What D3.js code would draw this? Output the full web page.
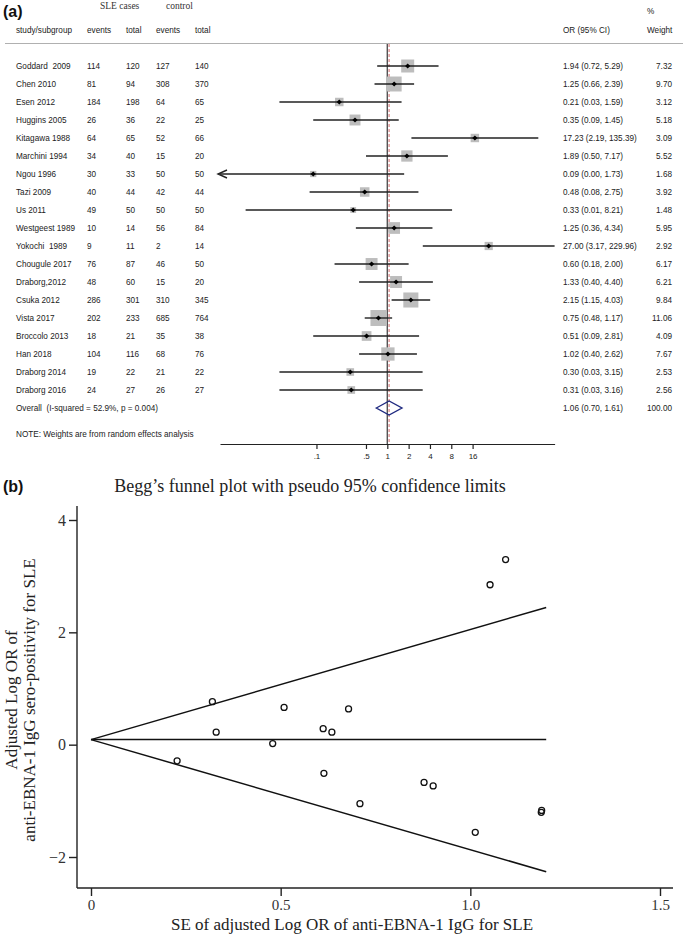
<!DOCTYPE html>
<html>
<head>
<meta charset="utf-8">
<script src="https://cdn.jsdelivr.net/npm/d3@7"></script>
<style>
  html, body { margin: 0; padding: 0; background: #fff; }
  svg { display: block; }
  text { white-space: pre; }
</style>
</head>
<body>
<svg id="chart" width="685" height="936"></svg>
<script>
// ---------- Forest plot data ----------
const studies = ["Goddard  2009","Chen 2010","Esen 2012","Huggins 2005","Kitagawa 1988","Marchini 1994","Ngou 1996","Tazi 2009","Us 2011","Westgeest 1989","Yokochi  1989","Chougule 2017","Draborg,2012","Csuka 2012","Vista 2017","Broccolo 2013","Han 2018","Draborg 2014","Draborg 2016"];
const caseEvents = [114,81,184,26,64,34,30,40,49,10,9,76,48,286,202,18,104,19,24];
const caseTotal  = [120,94,198,36,65,40,33,44,50,14,11,87,60,301,233,21,116,22,27];
const ctrlEvents = [127,308,64,22,52,15,50,42,50,56,2,46,15,310,685,35,68,21,26];
const ctrlTotal  = [140,370,65,25,66,20,50,44,50,84,14,50,20,345,764,38,76,22,27];
const orVals = [1.94,1.25,0.21,0.35,17.23,1.89,0.09,0.48,0.33,1.25,27.00,0.60,1.33,2.15,0.75,0.51,1.02,0.30,0.31];
const ciLow  = [0.72,0.66,0.03,0.09,2.19,0.50,0.00,0.08,0.01,0.36,3.17,0.18,0.40,1.15,0.48,0.09,0.40,0.03,0.03];
const ciHigh = [5.29,2.39,1.59,1.45,135.39,7.17,1.73,2.75,8.21,4.34,229.96,2.00,4.40,4.03,1.17,2.81,2.62,3.15,3.16];
const weights = [7.32,9.70,3.12,5.18,3.09,5.52,1.68,3.92,1.48,5.95,2.92,6.17,6.21,9.84,11.06,4.09,7.67,2.53,2.56];
const overall = {or: 1.06, lo: 0.70, hi: 1.61, weight: 100.00, label: "Overall  (I-squared = 52.9%, p = 0.004)"};
const orTicks = [0.1, 0.5, 1, 2, 4, 8, 16];
const orTickLabels = [".1", ".5", "1", "2", "4", "8", "16"];

// ---------- Funnel plot data ----------
const seVals    = [0.509,0.330,1.013,0.709,1.052,0.679,0.902,0.635,1.093,0.614,0.612,0.320,0.227,0.878,0.479,1.187,1.188];
const logOrVals = [0.663,0.223,-1.561,-1.050,2.847,0.637,-0.734,0.223,3.296,-0.511,0.285,0.765,-0.288,-0.673,0.020,-1.204,-1.171];
const pooledLogOr = 0.09;
const seMax = 1.2;
const xTicks = [0, 0.5, 1.0, 1.5];
const xTickLabels = ["0", "0.5", "1.0", "1.5"];
const yTicks = [-2, 0, 2, 4];

const svg = d3.select("#chart");
svg.append("rect").attr("width", 685).attr("height", 936).attr("fill", "#fff");

const sans = "'Liberation Sans', Arial, sans-serif";
const serif = "'Liberation Serif', 'Times New Roman', serif";
const fs = 8.2;

// ================= Panel (a) =================
const a = svg.append("g");
a.append("text").attr("x", 3).attr("y", 17).attr("font-family", sans).attr("font-weight", "bold")
  .attr("font-size", 16).attr("fill", "#111").text("(a)");

a.append("text").attr("x", 100).attr("y", 9).attr("font-family", serif).attr("font-size", 9.5).attr("fill", "#333").text("SLE cases");
a.append("text").attr("x", 166).attr("y", 9).attr("font-family", serif).attr("font-size", 9.5).attr("fill", "#333").text("control");

const hdrY = 33;
const cols = [{x:16, t:"study/subgroup"},{x:87,t:"events"},{x:126,t:"total"},{x:156,t:"events"},{x:195,t:"total"},{x:563,t:"OR (95% CI)"},{x:647,t:"Weight"}];
cols.forEach(c => a.append("text").attr("x", c.x).attr("y", hdrY).attr("font-family", sans).attr("font-size", fs).attr("fill", "#222").text(c.t));
a.append("text").attr("x", 647).attr("y", 14).attr("font-family", sans).attr("font-size", fs).attr("fill", "#222").text("%");
a.append("line").attr("x1", 5).attr("x2", 683).attr("y1", 43.5).attr("y2", 43.5).attr("stroke", "#b0b0b0").attr("stroke-width", 1);

const x = d3.scaleLog().domain([1/229.96, 229.96]).range([220, 554.6]);
const rowY = d3.scaleLinear().domain([0, 1]).range([66, 84]);
const n = studies.length;
const overallY = 408;
const axisY = 444;

// reference lines
a.append("line").attr("x1", x(1)).attr("x2", x(1)).attr("y1", 44).attr("y2", axisY)
  .attr("stroke", "#555").attr("stroke-width", 1.4);
a.append("line").attr("x1", x(overall.or)).attr("x2", x(overall.or)).attr("y1", 44).attr("y2", axisY)
  .attr("stroke", "#d9777a").attr("stroke-width", 1.1).attr("stroke-dasharray", "3,2");

// rows text
for (let i = 0; i < n; i++) {
  const y = rowY(i) + 3;
  const vals = [studies[i], caseEvents[i], caseTotal[i], ctrlEvents[i], ctrlTotal[i]];
  [16, 87, 126, 156, 195].forEach((cx, j) =>
    a.append("text").attr("x", cx).attr("y", y).attr("font-family", sans).attr("font-size", fs).attr("fill", "#222").text(vals[j]));
  a.append("text").attr("x", 563).attr("y", y).attr("font-family", sans).attr("font-size", fs).attr("fill", "#222")
    .text(`${orVals[i].toFixed(2)} (${ciLow[i].toFixed(2)}, ${ciHigh[i].toFixed(2)})`);
  a.append("text").attr("x", 672).attr("y", y).attr("text-anchor", "end").attr("font-family", sans).attr("font-size", fs).attr("fill", "#222")
    .text(weights[i].toFixed(2));
}

// markers
const [dMin, dMax] = x.domain();
for (let i = 0; i < n; i++) {
  const cy = rowY(i);
  const side = 4.8 * Math.sqrt(weights[i]);
  a.append("rect").attr("x", x(orVals[i]) - side/2).attr("y", cy - side/2).attr("width", side).attr("height", side)
    .attr("fill", "#bdbdbd");
  const lo = Math.max(ciLow[i], dMin), hi = Math.min(ciHigh[i], dMax);
  a.append("line").attr("x1", x(lo)).attr("x2", x(hi)).attr("y1", cy).attr("y2", cy)
    .attr("stroke", "#222").attr("stroke-width", 1.4);
  if (ciLow[i] < dMin) {
    const tip = x(dMin) - 2;
    a.append("path").attr("d", `M${tip+9},${cy-4} L${tip},${cy} L${tip+9},${cy+4}`)
      .attr("fill", "none").attr("stroke", "#222").attr("stroke-width", 1.4);
  }
  const px = x(orVals[i]);
  a.append("path").attr("d", `M${px},${cy-2.6} L${px+2.6},${cy} L${px},${cy+2.6} L${px-2.6},${cy} Z`).attr("fill", "#000");
}

// overall
a.append("path")
  .attr("d", `M${x(overall.lo)},${overallY} L${x(overall.or)},${overallY-7} L${x(overall.hi)},${overallY} L${x(overall.or)},${overallY+7} Z`)
  .attr("fill", "none").attr("stroke", "#1f2a80").attr("stroke-width", 1.4);
a.append("text").attr("x", 16).attr("y", overallY + 3).attr("font-family", sans).attr("font-size", fs).attr("fill", "#222").text(overall.label);
a.append("text").attr("x", 563).attr("y", overallY + 3).attr("font-family", sans).attr("font-size", fs).attr("fill", "#222")
  .text(`${overall.or.toFixed(2)} (${overall.lo.toFixed(2)}, ${overall.hi.toFixed(2)})`);
a.append("text").attr("x", 672).attr("y", overallY + 3).attr("text-anchor", "end").attr("font-family", sans).attr("font-size", fs).attr("fill", "#222")
  .text(overall.weight.toFixed(2));
a.append("text").attr("x", 16).attr("y", 437).attr("font-family", sans).attr("font-size", fs).attr("fill", "#222")
  .text("NOTE: Weights are from random effects analysis");

// OR axis
const xAxis = d3.axisBottom(x).tickValues(orTicks).tickFormat((d, i) => orTickLabels[i]).tickSize(5).tickSizeOuter(0);
const ga = a.append("g").attr("transform", `translate(0,${axisY})`).call(xAxis);
ga.select(".domain").attr("stroke", "#222").attr("stroke-width", 1.2);
ga.selectAll(".tick line").attr("stroke", "#222").attr("stroke-width", 1.2);
ga.selectAll(".tick text").attr("font-family", sans).attr("font-size", 8).attr("fill", "#222").attr("dy", "0.9em");

// ================= Panel (b) =================
const b = svg.append("g");
b.append("text").attr("x", 3).attr("y", 492).attr("font-family", sans).attr("font-weight", "bold")
  .attr("font-size", 16).attr("fill", "#111").text("(b)");

const fx = d3.scaleLinear().domain([0, 1.5]).range([91, 660]);
const fy = d3.scaleLinear().domain([-2, 4]).range([857, 520]);
const plotLeft = 77, plotRight = 673, plotTop = 506, plotBottom = 888;

b.append("text").attr("x", 310).attr("y", 492).attr("text-anchor", "middle")
  .attr("font-family", serif).attr("font-size", 18).attr("fill", "#222")
  .text("Begg\u2019s funnel plot with pseudo 95% confidence limits");

// axes
const gy = b.append("g").attr("transform", `translate(${plotLeft},0)`)
  .call(d3.axisLeft(fy).tickValues(yTicks).tickFormat(d3.format("d")).tickSize(8).tickSizeOuter(0));
gy.select(".domain").attr("d", `M0,${plotTop}V${plotBottom}`).attr("stroke", "#222").attr("stroke-width", 1.4);
gy.selectAll(".tick line").attr("stroke", "#222").attr("stroke-width", 1.4);
gy.selectAll(".tick text").attr("font-family", serif).attr("font-size", 16).attr("fill", "#333").attr("x", -11);

const gx = b.append("g").attr("transform", `translate(0,${plotBottom})`)
  .call(d3.axisBottom(fx).tickValues(xTicks).tickFormat((d, i) => xTickLabels[i]).tickSize(8).tickSizeOuter(0));
gx.select(".domain").attr("d", `M${plotLeft},0H${plotRight}`).attr("stroke", "#222").attr("stroke-width", 1.4);
gx.selectAll(".tick line").attr("stroke", "#222").attr("stroke-width", 1.4);
gx.selectAll(".tick text").attr("font-family", serif).attr("font-size", 15).attr("fill", "#333").attr("y", 11);

// funnel lines
const lineStyle = sel => sel.attr("stroke", "#111").attr("stroke-width", 1.5).attr("fill", "none");
b.append("line").attr("x1", fx(0)).attr("y1", fy(pooledLogOr)).attr("x2", fx(seMax)).attr("y2", fy(pooledLogOr)).call(lineStyle);
b.append("line").attr("x1", fx(0)).attr("y1", fy(pooledLogOr)).attr("x2", fx(seMax)).attr("y2", fy(pooledLogOr + 1.96 * seMax)).call(lineStyle);
b.append("line").attr("x1", fx(0)).attr("y1", fy(pooledLogOr)).attr("x2", fx(seMax)).attr("y2", fy(pooledLogOr - 1.96 * seMax)).call(lineStyle);

// points
b.selectAll("circle.pt").data(seVals).enter().append("circle").attr("class", "pt")
  .attr("cx", d => fx(d)).attr("cy", (d, i) => fy(logOrVals[i])).attr("r", 3)
  .attr("fill", "none").attr("stroke", "#111").attr("stroke-width", 1.3);

// axis titles
b.append("text").attr("x", 352).attr("y", 930).attr("text-anchor", "middle")
  .attr("font-family", serif).attr("font-size", 17).attr("fill", "#222")
  .text("SE of adjusted Log OR of anti-EBNA-1 IgG for SLE");
const yt = b.append("text").attr("transform", `translate(0,700) rotate(-90)`)
  .attr("text-anchor", "middle").attr("font-family", serif).attr("font-size", 17).attr("fill", "#222");
yt.append("tspan").attr("x", 0).attr("y", 17).text("Adjusted Log OR of");
yt.append("tspan").attr("x", 0).attr("y", 35).text("anti-EBNA-1 IgG sero-positivity for SLE");
</script>
</body>
</html>
